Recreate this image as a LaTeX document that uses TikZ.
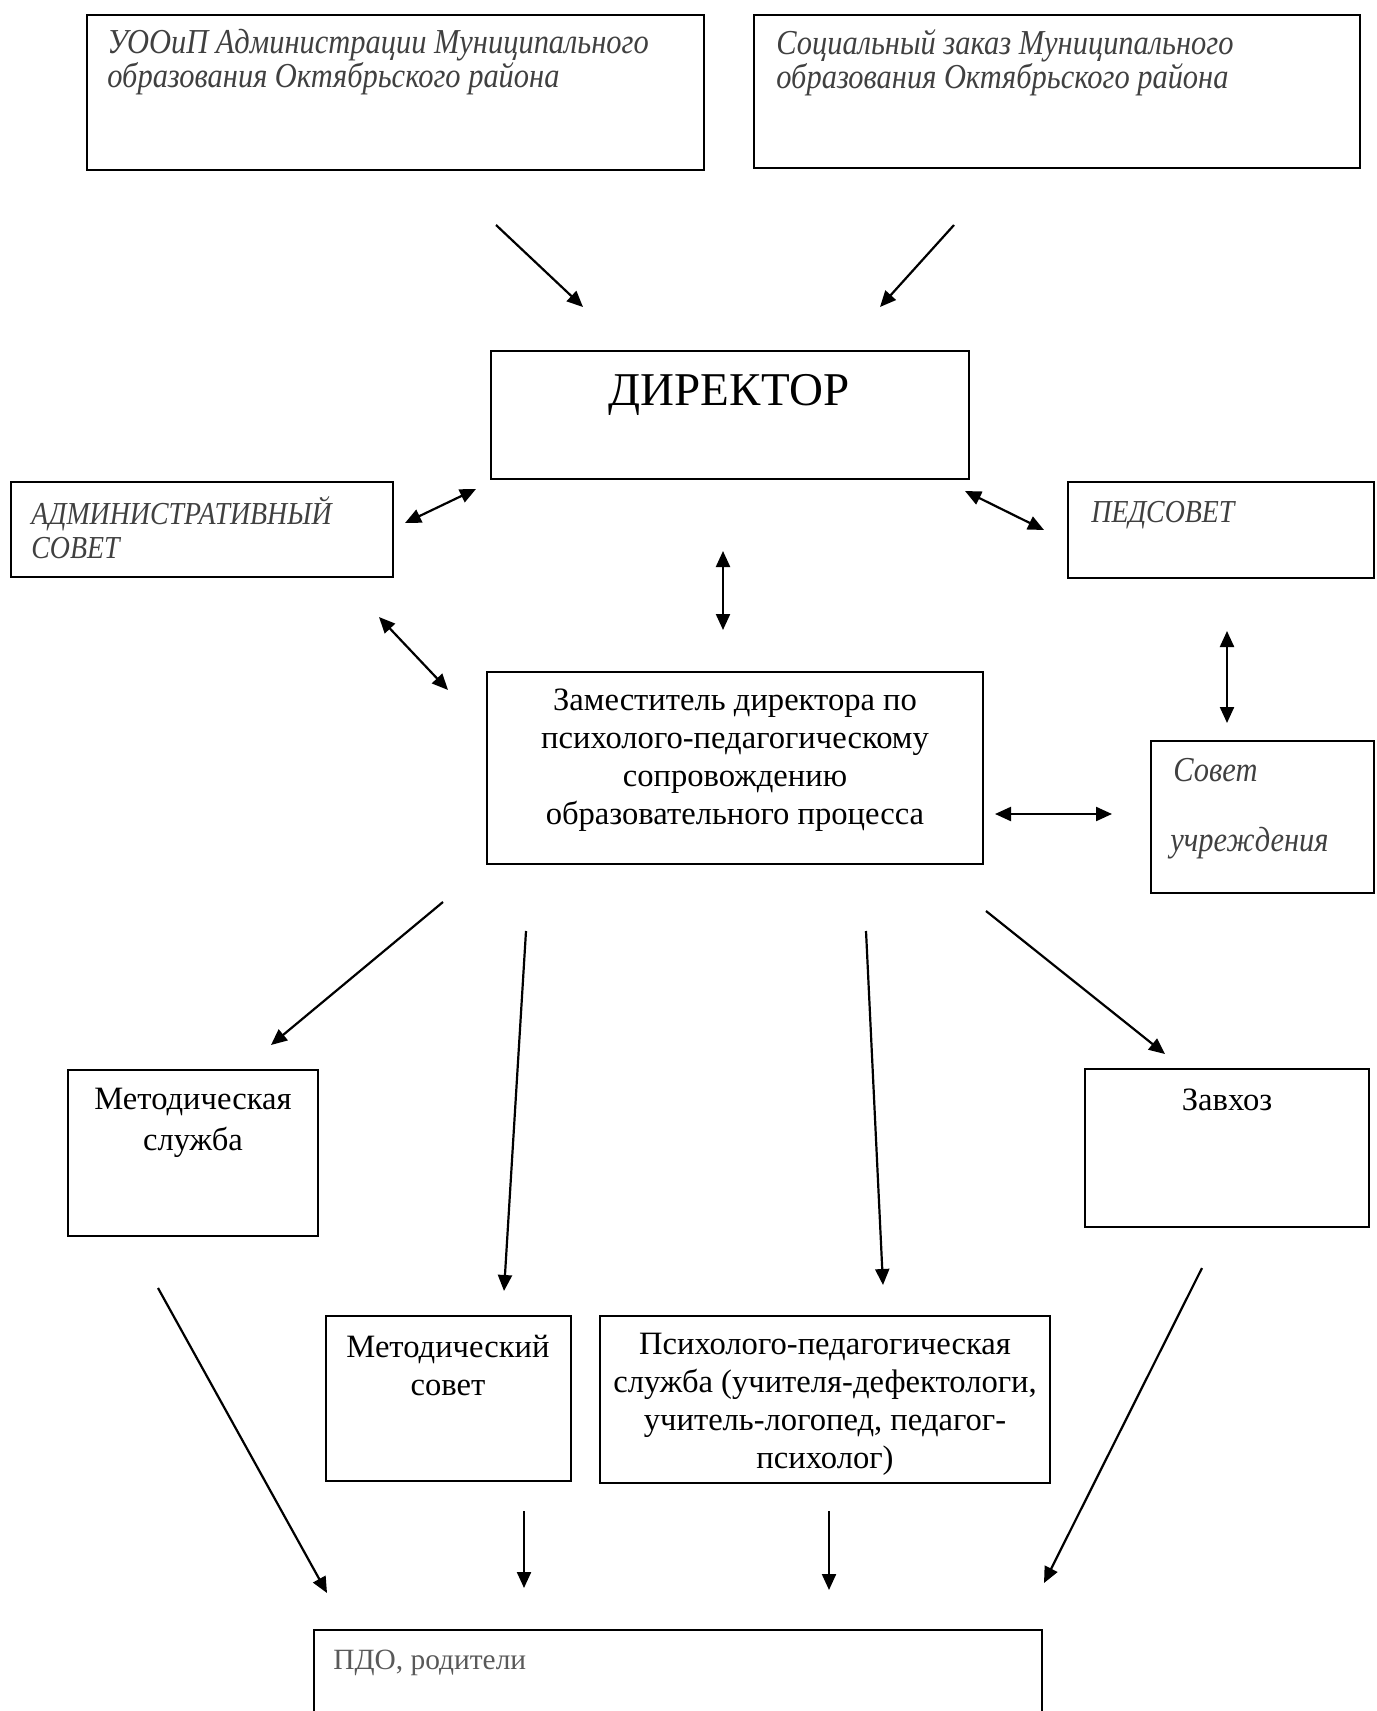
\documentclass[tikz,border=0pt]{standalone}
\usepackage{fontspec}
\setmainfont{Liberation Serif}
\newfontfamily\itfont[FakeStretch=0.87]{Liberation Serif}
\usepackage{tikz}
\usetikzlibrary{calc,fit,arrows.meta}
\definecolor{itgrey}{HTML}{404040}
\definecolor{pdogrey}{HTML}{595959}

\begin{document}
\begin{tikzpicture}[x=0.5pt,y=-0.5pt,
        >={Triangle[length=8pt,width=7pt]},
        box/.style={draw,line width=1.2pt,inner sep=0pt},
        itext/.style={inner sep=0pt,text=itgrey,font=\itfont\itshape\fontsize{17.5}{17}\selectfont,align=left},
        capstext/.style={itext,font=\itfont\itshape\fontsize{16}{17}\selectfont},
        rtext/.style={inner sep=0pt,font=\fontsize{16.3}{19}\selectfont,align=center},
        link/.style={line width=1.1pt}]
        \useasboundingbox (0,0) rectangle (1376,1711);
        % boxes
        \node[box,fit={(87,15) (704,170)}] (uoo) {};
        \node[box,fit={(754,15) (1360,168)}] (zakaz) {};
        \node[box,fit={(491,351) (969,479)}] (dir) {};
        \node[box,fit={(11,482) (393,577)}] (admin) {};
        \node[box,fit={(1068,482) (1374,578)}] (ped) {};
        \node[box,fit={(487,672) (983,864)}] (zam) {};
        \node[box,fit={(1151,741) (1374,893)}] (sovet) {};
        \node[box,fit={(68,1070) (318,1236)}] (msl) {};
        \node[box,fit={(1085,1069) (1369,1227)}] (zavhoz) {};
        \node[box,fit={(326,1316) (571,1481)}] (msov) {};
        \node[box,fit={(600,1316) (1050,1483)}] (psy) {};
        \node[box,fit={(314,1630) (1042,1740)}] (pdo) {};
        % texts
        \node[itext,anchor=north west] (uoo-t) at (107,29) {УООиП Администрации Муниципального\\образования Октябрьского района};
        \node[itext,anchor=north west] (zakaz-t) at (776,29) {Социальный заказ Муниципального\\образования Октябрьского района};
        \node[inner sep=0pt,font=\fontsize{23.5}{24}\selectfont,anchor=base] (dir-t) at (729,406) {ДИРЕКТОР};
        \node[capstext,anchor=north west] (admin-t) at (31,496) {АДМИНИСТРАТИВНЫЙ\\СОВЕТ};
        \node[capstext,anchor=base west] (ped-t) at (1091,522) {ПЕДСОВЕТ};
        \node[itext,anchor=base west] (sovet-t1) at (1173,781) {Совет};
        \node[itext,anchor=base west] (sovet-t2) at (1170,851) {учреждения};
        \node[rtext,anchor=north] (zam-t) at (735,688) {Заместитель директора по\\психолого-педагогическому\\сопровождению\\образовательного процесса};
        \node[rtext,anchor=north,font=\fontsize{16.3}{20.5}\selectfont] (msl-t) at (193,1088) {Методическая\\служба};
        \node[rtext,anchor=base] (zavhoz-t) at (1227,1110) {Завхоз};
        \node[rtext,anchor=north] (msov-t) at (448,1335) {Методический\\совет};
        \node[rtext,anchor=north] (psy-t) at (825,1333) {Психолого-педагогическая\\служба (учителя-дефектологи,\\учитель-логопед, педагог-\\психолог)};
        \node[inner sep=0pt,font=\fontsize{14.7}{17}\selectfont,anchor=base west,text=pdogrey] (pdo-t) at (333,1669) {ПДО, родители};
        % arrow end points
        \coordinate (a1) at (496,225);  \coordinate (b1) at (583,307);
        \coordinate (a2) at (954,225);  \coordinate (b2) at (880,307);
        \coordinate (a3) at (405,523);  \coordinate (b3) at (476,489);
        \coordinate (a4) at (965,491);  \coordinate (b4) at (1044,530);
        \coordinate (a5) at (723,551);  \coordinate (b5) at (723,630);
        \coordinate (a6) at (379,617);  \coordinate (b6) at (448,690);
        \coordinate (a7) at (1227,631); \coordinate (b7) at (1227,723);
        \coordinate (a8) at (995,814);  \coordinate (b8) at (1112,814);
        \coordinate (c1) at (443,902);  \coordinate (d1) at (271,1045);
        \coordinate (c2) at (526,931);  \coordinate (d2) at (504,1291);
        \coordinate (c3) at (866,931);  \coordinate (d3) at (883,1285);
        \coordinate (c4) at (986,911);  \coordinate (d4) at (1165,1054);
        \coordinate (e1) at (158,1288); \coordinate (f1) at (327,1593);
        \coordinate (e2) at (524,1511); \coordinate (f2) at (524,1588);
        \coordinate (e3) at (829,1511); \coordinate (f3) at (829,1590);
        \coordinate (e4) at (1202,1268);\coordinate (f4) at (1044,1583);
        % one-way arrows
        \foreach \s/\e in {a1/b1,a2/b2,c1/d1,c2/d2,c3/d3,c4/d4,e1/f1,e2/f2,e3/f3,e4/f4}
            \draw[link,->] (\s) -- (\e);
        % two-way arrows
        \foreach \s/\e in {a3/b3,a4/b4,a5/b5,a6/b6,a7/b7,a8/b8}
            \draw[link,<->] (\s) -- (\e);
\end{tikzpicture}
\end{document}
